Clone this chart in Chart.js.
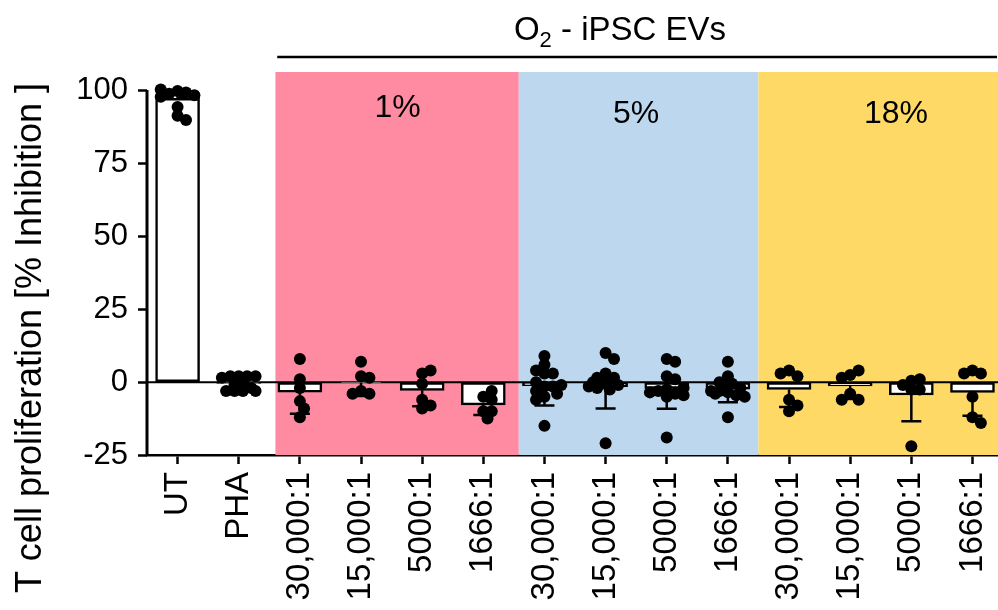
<!DOCTYPE html>
<html>
<head>
<meta charset="utf-8">
<script src="https://cdn.jsdelivr.net/npm/chart.js@4.4.1/dist/chart.umd.min.js"></script>
<style>
  html, body { margin: 0; padding: 0; background: #fff; overflow: hidden; }
  #wrap { width: 1006px; height: 610px; }
</style>
</head>
<body>
<div id="wrap"><canvas id="chart" width="1006" height="610"></canvas></div>
<script>
// x categories (EV : T cell ratios per O2 level)
const categories = ['UT', 'PHA',
  '30,000:1', '15,000:1', '5000:1', '1666:1',
  '30,000:1', '15,000:1', '5000:1', '1666:1',
  '30,000:1', '15,000:1', '5000:1', '1666:1'];

// bar heights (mean % inhibition) and SD
const means  = [97.5, -0.4, -3.4, -0.2, -2.8, -7.8, -1.2, -1.5, -2.1, -2.4, -2.5, -1.3, -4.4, -3.5];
const errors = [2.5, 1.8, 7.4, 4.5, 5.5, 3.5, 6.8, 7.5, 7.0, 4.5, 6.0, 4.5, 9.0, 8.0];

// individual replicates, one list per category
const replicates = [
  [100, 99.5, 99, 98.5, 100.5, 99, 98, 94.5, 91.5, 90],
  [2, 2, 2, 2, 1.5, 0, -1, -2, -3, -3, -3, -3],
  [8, 1, -2, -6.5, -9, -12],
  [7, 2, 1.5, -3, -4, -4],
  [3, 4, -0.5, -6, -9, -8],
  [-5, -3, -6, -10, -12.5, -10],
  [6, 9, 3, 3, 4, -1.5, -1.5, -3, -5, -4, -6, -15, 0, -1],
  [10, 8, 3, 1.5, 1.5, -0.5, -1, -2, -1.5, -21, -2.5, 0],
  [8, 7, 2, 1, -2.5, -4, -3, -4.5, -3.5, -19, -2, -5],
  [7, 2, -0.5, 0, -3.5, -4.5, -3, -2, -3, -12, -5, -1.5, -4],
  [4, 2, 3, -6, -8, -10],
  [2.5, 4, 1.5, -4, -6, -6],
  [0.5, 1, -2.5, -2.5, -1, -22],
  [4, 3, 3, -5, -12, -14]
];

const yTicks = [-25, 0, 25, 50, 75, 100];

// O2 groups: shaded spans (in category units) and their labels
const oxygenLevels = ['1%', '5%', '18%'];
const oxygenColors = ['#FF8BA3', '#BDD7EE', '#FFD966'];
const oxygenSpans = [[1.6, 5.58], [5.58, 9.5], [9.5, 13.5]];
const oxygenLabelX = [3.6, 7.5, 11.75];

const FONT = '"Liberation Sans", Arial, sans-serif';
const VIEW_W = 998; // visible page width

// simple beeswarm, kept within about +-20px of the category centre
function swarm(values, center) {
  const pxX = 61, pxY = 2.912, d = 12, maxOff = 20;
  const placed = [];
  values.forEach(v => {
    let best = 0, bestGap = -1;
    for (let k = 0; k < 40; k++) {
      const cand = (k % 2 ? 1 : -1) * Math.ceil(k / 2) * 0.35 * d;
      if (Math.abs(cand) > maxOff) break;
      const gap = placed.reduce((g, p) => Math.min(g, Math.hypot(p.dx - cand, (p.v - v) * pxY)), Infinity);
      if (gap >= d * 0.7) { best = cand; bestGap = gap; break; }
      if (gap > bestGap) { best = cand; bestGap = gap; }
    }
    placed.push({ v, dx: best });
  });
  return placed.map(p => ({ x: center + p.dx / pxX, y: p.v }));
}

const barData = means.map((m, i) => ({ x: i, y: m }));
const dotData = replicates.flatMap((vals, i) => swarm(vals, i));

const decor = {
  id: 'decor',
  beforeDatasetsDraw(chart) {
    const { ctx, chartArea: a, scales: { x, y } } = chart;
    ctx.save();
    oxygenSpans.forEach((s, i) => {
      const l = x.getPixelForValue(s[0]);
      const r = Math.min(x.getPixelForValue(s[1]), a.right);
      ctx.fillStyle = oxygenColors[i];
      ctx.fillRect(l, a.top, r - l, a.bottom - a.top);
    });
    ctx.fillStyle = '#000';
    ctx.font = '32px ' + FONT;
    ctx.textAlign = 'center';
    ctx.textBaseline = 'middle';
    oxygenLevels.forEach((t, i) => {
      ctx.fillText(t, x.getPixelForValue(oxygenLabelX[i]), y.getPixelForValue(i ? 92 : 94));
    });
    // zero line
    const y0 = y.getPixelForValue(0);
    ctx.strokeStyle = '#000';
    ctx.lineWidth = 2;
    ctx.beginPath();
    ctx.moveTo(a.left, y0);
    ctx.lineTo(a.right, y0);
    ctx.stroke();
    ctx.restore();
  },
  afterDatasetDraw(chart, args) {
    if (args.index !== 0) return;
    const { ctx, scales: { x, y } } = chart;
    ctx.save();
    ctx.strokeStyle = '#000';
    ctx.lineWidth = 2.5;
    means.forEach((m, i) => {
      const px = x.getPixelForValue(i);
      const end = m >= 0 ? m + errors[i] : m - errors[i];
      const py1 = y.getPixelForValue(m), py2 = y.getPixelForValue(end);
      ctx.beginPath();
      ctx.moveTo(px, py1);
      ctx.lineTo(px, py2);
      ctx.moveTo(px - 10, py2);
      ctx.lineTo(px + 10, py2);
      ctx.stroke();
    });
    ctx.restore();
  },
  afterDraw(chart) {
    const { ctx, chartArea: a, scales: { x, y } } = chart;
    ctx.save();
    ctx.strokeStyle = '#000';
    // y axis line, -25 to 100 only
    ctx.lineWidth = 3;
    ctx.beginPath();
    ctx.moveTo(a.left, y.getPixelForValue(-25) + 1);
    ctx.lineTo(a.left, y.getPixelForValue(100) - 1);
    ctx.stroke();
    // bracket over the EV groups
    ctx.lineWidth = 2.5;
    ctx.beginPath();
    ctx.moveTo(x.getPixelForValue(1.63), 57);
    ctx.lineTo(VIEW_W - 1, 57);
    ctx.stroke();
    // O2 - iPSC EVs
    ctx.fillStyle = '#000';
    ctx.textBaseline = 'alphabetic';
    ctx.textAlign = 'left';
    const big = '33px ' + FONT, small = '22px ' + FONT;
    ctx.font = big;
    const w1 = ctx.measureText('O').width, w3 = ctx.measureText(' - iPSC EVs').width;
    ctx.font = small;
    const w2 = ctx.measureText('2').width;
    let tx = 620 - (w1 + w2 + w3) / 2;
    ctx.font = big;
    ctx.fillText('O', tx, 40);
    ctx.font = small;
    ctx.fillText('2', tx + w1, 47);
    ctx.font = big;
    ctx.fillText(' - iPSC EVs', tx + w1 + w2, 40);
    // y title
    ctx.translate(31, 338);
    ctx.rotate(-Math.PI / 2);
    ctx.textAlign = 'center';
    ctx.textBaseline = 'middle';
    ctx.font = '36px ' + FONT;
    ctx.fillText('T cell proliferation [% Inhibition ]', 0, 0);
    ctx.restore();
  }
};

new Chart(document.getElementById('chart'), {
  type: 'bar',
  data: {
    datasets: [
      {
        type: 'bar',
        data: barData,
        backgroundColor: '#fff',
        borderColor: '#000',
        borderWidth: 2.5,
        borderSkipped: false,
        barThickness: 44,
        order: 2
      },
      {
        type: 'scatter',
        data: dotData,
        pointRadius: 6,
        pointBackgroundColor: '#000',
        pointBorderWidth: 0,
        order: 1
      }
    ]
  },
  options: {
    responsive: false,
    animation: false,
    devicePixelRatio: 1,
    layout: { padding: { top: 72, left: 0, right: 0, bottom: 0 } },
    plugins: { legend: { display: false }, tooltip: { enabled: false } },
    scales: {
      x: {
        type: 'linear',
        offset: false,
        min: -0.5,
        max: 13.45,
        afterBuildTicks: s => { s.ticks = categories.map((_, i) => ({ value: i })); },
        afterFit: s => { s.height = 155; s.paddingLeft = 0; s.paddingRight = 0; },
        ticks: {
          autoSkip: false,
          minRotation: 90,
          maxRotation: 90,
          padding: 8,
          color: '#000',
          font: { size: 33, family: FONT },
          callback: v => categories[v]
        },
        grid: { offset: false, drawOnChartArea: false, tickLength: 9, tickColor: '#000', tickWidth: 2.5 },
        border: { display: true, color: '#000', width: 2.5 }
      },
      y: {
        min: -25,
        max: 106.5,
        afterBuildTicks: s => { s.ticks = yTicks.map(v => ({ value: v })); },
        afterFit: s => { s.width = 147; },
        ticks: { padding: 10, color: '#000', font: { size: 31, family: FONT } },
        grid: { drawOnChartArea: false, tickLength: 9, tickColor: '#000', tickWidth: 2.5 },
        border: { display: false }
      }
    }
  },
  plugins: [decor]
});
</script>
</body>
</html>
